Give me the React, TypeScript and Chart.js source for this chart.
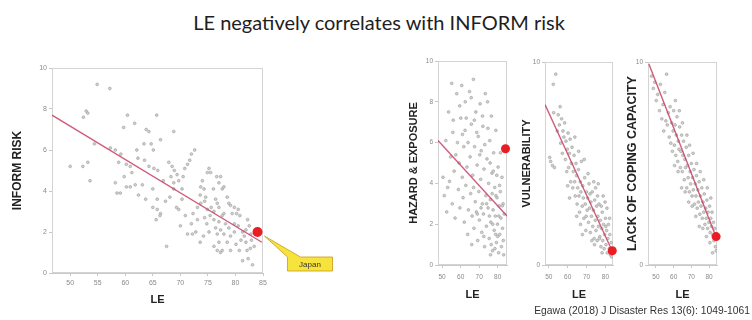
import React, { useEffect, useRef } from "react";
import { Chart, registerables } from "chart.js";

Chart.register(...registerables);

// ---------------- DATA ----------------
const chartTitle = "LE negatively correlates with INFORM risk";
const citation = "Egawa (2018) J Disaster Res 13(6): 1049-1061";
const xAxisTitle = "LE";
const japanLabel = "Japan";

const mainXTicks = [50, 55, 60, 65, 70, 75, 80, 85];
const smallXTicks = [50, 60, 70, 80];
const fullYTicks = [0, 2, 4, 6, 8, 10];
const endYTicks = [0, 10];

// [LE, INFORM risk]
const informRiskPoints = [
  [54.9, 9.2], [57.2, 9.0], [52.4, 7.6], [52.9, 7.9], [53.2, 7.8], [60.4, 7.7], [61.7, 7.3], [59.7, 7.1],
  [63.8, 7.0], [64.3, 6.9], [65.7, 7.7], [68.8, 6.9], [66.4, 6.5], [54.4, 6.3], [50.0, 5.2], [52.3, 5.2],
  [53.2, 5.4], [53.6, 4.5], [57.3, 6.1], [58.2, 6.0], [59.2, 5.8], [62.1, 6.0], [63.4, 6.3], [64.7, 6.3],
  [65.1, 6.0], [58.8, 5.4], [60.2, 5.3], [60.9, 5.2], [61.2, 4.9], [59.8, 4.7], [62.3, 5.6], [63.5, 5.5],
  [64.3, 5.2], [65.2, 5.1], [65.9, 5.0], [58.2, 4.4], [58.5, 3.9], [59.1, 3.9], [60.2, 4.2], [60.9, 4.2],
  [61.8, 4.3], [62.4, 3.8], [63.1, 4.3], [63.7, 3.6], [65.0, 4.1], [65.8, 3.6], [65.8, 3.1], [66.4, 2.9],
  [66.3, 2.8], [67.5, 1.3], [66.9, 4.5], [67.9, 5.4], [68.5, 5.2], [68.9, 5.0], [69.4, 4.8], [68.3, 4.7],
  [68.8, 4.4], [69.7, 4.5], [70.3, 4.1], [70.5, 4.7], [70.8, 5.1], [71.3, 5.3], [71.7, 5.5], [72.6, 6.0],
  [72.0, 5.8], [69.3, 3.2], [69.7, 3.1], [70.3, 3.6], [70.0, 2.3], [70.9, 2.8], [71.3, 1.9], [72.0, 2.4],
  [72.3, 2.9], [72.8, 2.0], [73.1, 3.2], [73.6, 3.8], [73.7, 4.2], [74.0, 4.5], [74.3, 4.1], [74.6, 3.7],
  [74.9, 4.9], [75.2, 5.1], [75.5, 4.9], [74.4, 2.7], [74.8, 2.4], [75.2, 2.0], [73.6, 1.5], [74.2, 1.8],
  [75.6, 3.2], [76.1, 3.0], [76.1, 2.6], [76.4, 2.2], [76.7, 1.9], [77.0, 1.5], [77.3, 1.0], [77.6, 1.1],
  [76.0, 4.1], [76.4, 3.6], [76.7, 3.4], [77.0, 4.4], [77.3, 4.7], [76.6, 4.7], [78.5, 3.7], [79.1, 3.3],
  [77.9, 2.9], [78.2, 2.4], [78.8, 2.2], [79.1, 1.8], [79.4, 2.9], [79.8, 2.4], [80.2, 2.9], [80.5, 3.1],
  [80.8, 2.8], [79.8, 2.0], [80.1, 1.4], [80.7, 1.1], [81.0, 1.6], [81.3, 2.0], [81.6, 1.8], [81.9, 1.5],
  [82.1, 1.1], [82.3, 0.7], [81.3, 0.6], [82.2, 2.6], [82.5, 2.3], [82.8, 1.9], [82.9, 1.6], [83.1, 0.4],
  [82.7, 1.2], [83.4, 1.3], [81.9, 2.1], [80.5, 2.3], [77.6, 2.8], [77.0, 3.2], [74.9, 3.1], [73.1, 2.6],
  [72.2, 1.9], [76.1, 1.3], [76.7, 1.1], [77.3, 2.1], [77.9, 1.9], [78.5, 1.5], [79.1, 1.1], [77.0, 2.5],
  [75.4, 2.8], [74.4, 3.5], [73.7, 3.4], [77.6, 4.1], [77.9, 4.2], [78.8, 3.4], [79.8, 3.2], [68.8, 4.1],
  [68.1, 3.7], [67.3, 3.5], [65.0, 3.2], [65.6, 2.6],
];

// [LE, hazard & exposure]
const hazardPoints = [
  [50.5, 4.3], [51.2, 3.4], [52.0, 6.1], [52.5, 2.6], [53.5, 7.5], [54.0, 4.1], [54.6, 5.3], [55.2, 8.9],
  [55.5, 3.0], [56.0, 7.1], [56.5, 4.6], [57.0, 2.3], [57.9, 8.4], [58.3, 6.0], [58.8, 3.7], [59.2, 5.0],
  [59.6, 2.8], [60.1, 7.2], [60.6, 8.8], [60.9, 4.3], [61.3, 3.3], [61.7, 5.8], [62.0, 2.1], [62.4, 6.6],
  [62.8, 3.9], [63.0, 7.2], [63.4, 4.8], [63.8, 1.5], [64.2, 2.7], [64.8, 8.5], [65.1, 5.3], [65.4, 3.5],
  [65.8, 6.9], [66.2, 2.4], [66.5, 4.4], [66.9, 9.1], [67.2, 1.8], [67.5, 5.8], [67.9, 3.1], [68.2, 7.5],
  [68.5, 2.6], [68.9, 4.9], [69.2, 1.2], [69.5, 6.3], [69.8, 3.6], [70.1, 2.2], [70.5, 7.9], [70.8, 4.2],
  [71.1, 5.6], [71.4, 1.6], [71.7, 3.0], [72.0, 6.8], [72.3, 2.5], [72.6, 4.7], [72.9, 0.9], [73.3, 8.4],
  [73.6, 3.4], [73.9, 1.9], [74.2, 5.2], [74.5, 8.0], [74.8, 2.8], [75.1, 4.0], [75.4, 1.3], [75.7, 6.1],
  [76.0, 3.2], [76.3, 2.1], [76.6, 7.3], [76.9, 4.5], [77.2, 0.7], [77.5, 2.7], [77.8, 5.5], [78.1, 1.7],
  [78.4, 3.8], [78.7, 2.4], [79.0, 6.6], [79.3, 1.1], [79.6, 3.3], [79.9, 2.0], [80.2, 4.8], [80.5, 0.6],
  [80.8, 2.9], [81.1, 1.5], [81.4, 3.6], [81.7, 2.3], [82.0, 0.9], [82.3, 4.3], [82.6, 1.8], [82.9, 3.0],
  [83.2, 0.5], [83.5, 2.5], [81.5, 5.5], [79.5, 4.4], [77.0, 3.5], [75.5, 2.4], [74.0, 3.0], [72.5, 1.4],
  [71.0, 2.8], [69.0, 2.5], [67.0, 3.8], [66.0, 1.0], [80.0, 1.4], [78.5, 0.8], [76.5, 1.0], [82.5, 2.9],
  [81.0, 3.9], [79.0, 3.4], [77.6, 4.6], [75.9, 5.0], [74.7, 6.7], [73.0, 5.9], [71.8, 7.3], [70.3, 5.4],
  [68.7, 6.5], [67.4, 7.1], [65.7, 8.2], [64.0, 6.0], [62.5, 8.0], [61.0, 6.4], [59.5, 7.8], [57.4, 5.4],
  [55.8, 6.5], [53.0, 3.8], [83.0, 1.2], [80.6, 2.4], [78.9, 1.5], [77.3, 2.0], [76.1, 0.5],
];

// [LE, vulnerability]
const vulnerabilityPoints = [
  [53.7, 9.4], [52.4, 8.9], [52.6, 7.5], [51.0, 5.1], [52.0, 4.9], [53.0, 4.8], [50.5, 5.3], [54.5, 6.6],
  [55.0, 7.4], [55.6, 6.9], [56.0, 7.8], [56.3, 6.0], [56.8, 7.2], [57.2, 5.5], [57.5, 6.6], [58.0, 6.3],
  [58.4, 7.0], [58.8, 5.2], [59.1, 6.1], [59.5, 4.6], [59.8, 5.7], [60.2, 6.5], [60.5, 4.8], [60.9, 5.5],
  [61.3, 6.2], [61.6, 4.1], [62.0, 5.0], [62.3, 5.8], [62.7, 3.8], [63.0, 4.6], [63.4, 5.4], [63.7, 4.1],
  [64.0, 3.4], [64.4, 5.0], [64.7, 4.4], [65.0, 3.0], [65.3, 3.8], [65.7, 4.7], [66.0, 3.4], [66.3, 2.6],
  [66.7, 4.1], [67.0, 3.6], [67.3, 5.1], [67.7, 2.9], [68.0, 3.9], [68.3, 3.3], [68.6, 2.3], [69.0, 4.3],
  [69.3, 3.0], [69.6, 1.7], [70.0, 3.6], [70.3, 2.7], [70.6, 3.3], [71.0, 2.1], [71.3, 4.0], [71.6, 2.8],
  [72.0, 1.6], [72.3, 3.1], [72.6, 2.4], [73.0, 3.6], [73.3, 1.9], [73.6, 2.7], [74.0, 1.3], [74.3, 3.2],
  [74.6, 2.2], [75.0, 1.7], [75.3, 2.9], [75.6, 1.2], [76.0, 2.4], [76.3, 1.9], [76.6, 3.0], [77.0, 1.4],
  [77.3, 2.2], [77.6, 0.9], [78.0, 1.8], [78.3, 2.6], [78.6, 1.2], [79.0, 2.0], [79.3, 0.8], [79.6, 1.5],
  [80.0, 2.3], [80.3, 1.0], [80.6, 1.7], [81.0, 0.6], [81.3, 1.3], [81.6, 2.0], [82.0, 0.8], [82.3, 1.5],
  [82.6, 0.5], [83.0, 1.1], [83.3, 0.4], [80.8, 2.8], [79.8, 3.1], [78.8, 3.4], [77.8, 2.9], [76.8, 1.3],
  [75.8, 3.4], [74.8, 3.8], [73.8, 4.1], [72.8, 1.2], [71.8, 3.5], [70.8, 4.5], [69.8, 2.4], [68.8, 5.2],
  [67.8, 1.5], [66.8, 2.0], [65.8, 5.6], [64.8, 2.4], [63.8, 6.3], [61.0, 3.3], [60.0, 3.9], [76.2, 4.0],
  [74.2, 1.0], [78.2, 0.6], [80.2, 1.9], [82.2, 2.3],
];

// [LE, lack of coping capacity]
const copingPoints = [
  [47.5, 9.3], [48.5, 8.7], [49.3, 9.0], [50.2, 8.1], [51.0, 8.4], [52.0, 7.6], [52.5, 8.9], [53.3, 7.2],
  [54.0, 7.9], [54.4, 6.6], [55.0, 8.5], [55.6, 7.1], [56.0, 9.4], [56.4, 6.9], [57.0, 7.5], [57.5, 6.3],
  [58.0, 7.8], [58.4, 6.0], [58.9, 7.0], [59.3, 5.6], [59.7, 6.6], [60.0, 7.6], [60.4, 5.9], [60.8, 6.9],
  [61.2, 5.4], [61.5, 6.4], [61.9, 7.3], [62.3, 5.1], [62.6, 6.1], [63.0, 5.7], [63.4, 6.8], [63.8, 4.8],
  [64.1, 5.6], [64.5, 6.4], [64.9, 4.6], [65.2, 5.4], [65.6, 6.1], [66.0, 4.2], [66.3, 5.2], [66.7, 4.8],
  [67.1, 5.8], [67.4, 3.8], [67.8, 4.9], [68.2, 4.3], [68.5, 5.4], [68.9, 3.6], [69.3, 4.6], [69.6, 4.0],
  [70.0, 5.0], [70.4, 3.4], [70.7, 4.3], [71.1, 3.7], [71.5, 4.7], [71.8, 3.0], [72.2, 4.0], [72.6, 3.4],
  [72.9, 4.4], [73.3, 2.8], [73.7, 3.7], [74.0, 3.1], [74.4, 4.1], [74.8, 2.5], [75.1, 3.4], [75.5, 2.9],
  [75.9, 3.8], [76.2, 2.3], [76.6, 3.1], [77.0, 2.6], [77.3, 3.5], [77.7, 2.0], [78.1, 2.8], [78.4, 2.3],
  [78.8, 3.2], [79.2, 1.8], [79.5, 2.6], [79.9, 2.1], [80.3, 2.9], [80.6, 1.6], [81.0, 2.3], [81.4, 1.9],
  [81.7, 2.6], [82.1, 1.5], [82.5, 2.1], [82.8, 1.2], [83.2, 1.8], [83.6, 0.9], [84.0, 0.7], [61.0, 8.1],
  [63.2, 7.6], [65.0, 7.0], [67.5, 6.4], [69.0, 5.9], [71.0, 5.5], [73.0, 5.0], [75.0, 4.6], [77.0, 4.2],
  [79.0, 3.8], [81.0, 3.3], [74.5, 1.9], [72.5, 2.4], [70.5, 2.9], [68.5, 3.1], [66.5, 3.6], [64.5, 3.8],
  [62.5, 4.6], [60.5, 4.9], [78.5, 1.4], [80.5, 1.1], [76.5, 1.8], [82.0, 0.6],
];

// regression line end points [LE, value]
const informRiskFit = [[46.7, 7.7], [84.8, 1.5]];
const hazardFit = [[47.8, 6.1], [85.0, 2.4]];
const vulnerabilityFit = [[48.0, 7.9], [84.0, 0.6]];
const copingFit = [[46.0, 9.9], [84.3, 1.3]];

// Japan [LE, value]
const japanRisk = [84.0, 2.0];
const japanHazard = [84.2, 5.7];
const japanVulnerability = [83.6, 0.7];
const japanCoping = [84.0, 1.4];

// ---------------- LAYOUT ----------------
const FONT = "'Liberation Sans', Arial, sans-serif";

type PanelCfg = {
  points: number[][];
  fit: number[][];
  japan: number[];
  xMin: number;
  xMax: number;
  xTicks: number[];
  yTicks: number[];
  yTitle: string;
  titleSize: number;
  tickSize: number;
  japanRadius: number;
  callout?: boolean;
  box: { left: number; top: number; width: number; height: number };
  area: { left: number; right: number; top: number; bottom: number };
  yTitleX: number;
  xTitleY: number;
  tickGap: number;
};

const panels: PanelCfg[] = [
  {
    points: informRiskPoints, fit: informRiskFit, japan: japanRisk,
    xMin: 46.7, xMax: 85, xTicks: mainXTicks, yTicks: fullYTicks,
    yTitle: "INFORM RISK", titleSize: 12, tickSize: 7, japanRadius: 5, callout: true,
    box: { left: 0, top: 55, width: 345, height: 265 },
    area: { left: 52, right: 263, top: 68, bottom: 273 },
    yTitleX: 18, xTitleY: 300, tickGap: 3,
  },
  {
    points: hazardPoints, fit: hazardFit, japan: japanHazard,
    xMin: 47.8, xMax: 85, xTicks: smallXTicks, yTicks: fullYTicks,
    yTitle: "HAZARD & EXPOSURE", titleSize: 11, tickSize: 6.5, japanRadius: 4.5,
    box: { left: 400, top: 50, width: 115, height: 270 },
    area: { left: 438, right: 507, top: 61, bottom: 265 },
    yTitleX: 414, xTitleY: 295, tickGap: 5,
  },
  {
    points: vulnerabilityPoints, fit: vulnerabilityFit, japan: japanVulnerability,
    xMin: 48, xMax: 84, xTicks: smallXTicks, yTicks: endYTicks,
    yTitle: "VULNERABILITY", titleSize: 11, tickSize: 6.5, japanRadius: 4.5,
    box: { left: 515, top: 50, width: 108, height: 270 },
    area: { left: 545, right: 613, top: 62, bottom: 265 },
    yTitleX: 527, xTitleY: 295, tickGap: 5,
  },
  {
    points: copingPoints, fit: copingFit, japan: japanCoping,
    xMin: 45.5, xMax: 84.5, xTicks: smallXTicks, yTicks: endYTicks,
    yTitle: "LACK OF COPING CAPACITY", titleSize: 12.5, tickSize: 6.5, japanRadius: 4.5,
    box: { left: 623, top: 50, width: 129, height: 270 },
    area: { left: 648, right: 717, top: 62, bottom: 265 },
    yTitleX: 633, xTitleY: 295, tickGap: 5,
  },
];

const boxPlugin = {
  id: "plotBox",
  beforeDatasetsDraw(chart: any) {
    const { ctx, chartArea: a } = chart;
    ctx.save();
    ctx.strokeStyle = "#d4d4d4";
    ctx.lineWidth = 1;
    ctx.strokeRect(a.left + 0.5, a.top + 0.5, a.right - a.left - 1, a.bottom - a.top - 1);
    ctx.restore();
  },
};

function makeCalloutPlugin(japan: number[]) {
  return {
    id: "japanCallout",
    afterDatasetsDraw(chart: any) {
      const { ctx, scales } = chart;
      const jx = scales.x.getPixelForValue(japan[0]);
      const jy = scales.y.getPixelForValue(japan[1]);
      const L = jx + 30, R = jx + 75, T = jy + 25, B = jy + 39;
      ctx.save();
      ctx.beginPath();
      ctx.moveTo(L, T);
      ctx.lineTo(jx + 7, jy + 4);
      ctx.lineTo(L + 13, T);
      ctx.lineTo(R, T);
      ctx.lineTo(R, B);
      ctx.lineTo(L, B);
      ctx.closePath();
      ctx.fillStyle = "#f6e33c";
      ctx.fill();
      ctx.strokeStyle = "#c99a1a";
      ctx.lineWidth = 0.8;
      ctx.stroke();
      ctx.fillStyle = "#333";
      ctx.font = `8px ${FONT}`;
      ctx.textAlign = "center";
      ctx.textBaseline = "middle";
      ctx.fillText(japanLabel, (L + R) / 2, (T + B) / 2 + 0.5);
      ctx.restore();
    },
  };
}

function Panel({ cfg }: { cfg: PanelCfg }) {
  const ref = useRef<HTMLCanvasElement>(null);
  useEffect(() => {
    const c = ref.current;
    if (!c) return;
    const lh = cfg.titleSize * 1.2;
    const xlh = 11 * 1.2;
    const pl = cfg.yTitleX - cfg.box.left - lh / 2;
    const yWidth = cfg.area.left - cfg.box.left - pl;
    const pt = cfg.area.top - cfg.box.top;
    const pr = cfg.box.left + cfg.box.width - cfg.area.right;
    const xScaleBottom = cfg.xTitleY - cfg.box.top + xlh / 2;
    const pb = cfg.box.height - xScaleBottom;
    const xHeight = xScaleBottom - (cfg.area.bottom - cfg.box.top);

    const plugins: any[] = [boxPlugin];
    if (cfg.callout) plugins.push(makeCalloutPlugin(cfg.japan));

    const chart = new Chart(c, {
      type: "scatter",
      data: {
        datasets: [
          {
            data: [{ x: cfg.japan[0], y: cfg.japan[1] }],
            pointRadius: cfg.japanRadius,
            backgroundColor: "#ea1c24",
            borderColor: "#e01018",
            borderWidth: 0,
            clip: false,
            order: 0,
          } as any,
          {
            data: cfg.fit.map(([x, y]) => ({ x, y })),
            showLine: true,
            pointRadius: 0,
            borderColor: "rgba(200,62,98,0.85)",
            borderWidth: 1.4,
            order: 1,
          },
          {
            data: cfg.points.map(([x, y]) => ({ x, y })),
            pointRadius: 1.4,
            backgroundColor: "#d0d0d0",
            borderColor: "#9c9c9c",
            borderWidth: 0.6,
            order: 2,
          },
        ],
      },
      options: {
        animation: false,
        responsive: false,
        maintainAspectRatio: false,
        events: [],
        layout: { padding: { left: pl, right: pr, top: pt, bottom: pb } },
        plugins: { legend: { display: false }, tooltip: { enabled: false } },
        scales: {
          x: {
            type: "linear",
            min: cfg.xMin,
            max: cfg.xMax,
            afterBuildTicks: (s: any) => {
              s.ticks = cfg.xTicks.map((v) => ({ value: v }));
            },
            afterFit: (s: any) => {
              s.height = xHeight;
            },
            grid: { drawOnChartArea: false, drawTicks: true, tickLength: 3, color: "#c8c8c8" },
            border: { color: "#c8c8c8" },
            ticks: {
              font: { size: cfg.tickSize, family: FONT },
              color: "#8a8a8a",
              padding: cfg.tickGap,
              maxRotation: 0,
              autoSkip: false,
            },
            title: {
              display: true,
              text: xAxisTitle,
              font: { size: 11, weight: "bold", family: FONT, lineHeight: 1.2 },
              color: "#222",
              padding: 0,
            },
          },
          y: {
            type: "linear",
            min: 0,
            max: 10,
            afterBuildTicks: (s: any) => {
              s.ticks = cfg.yTicks.map((v) => ({ value: v }));
            },
            afterFit: (s: any) => {
              s.width = yWidth;
            },
            grid: { drawOnChartArea: false, drawTicks: true, tickLength: 3, color: "#c8c8c8" },
            border: { color: "#c8c8c8" },
            ticks: {
              font: { size: cfg.tickSize, family: FONT },
              color: "#8a8a8a",
              padding: 2,
              autoSkip: false,
            },
            title: {
              display: true,
              text: cfg.yTitle,
              font: { size: cfg.titleSize, weight: "bold", family: FONT, lineHeight: 1.2 },
              color: "#222",
              padding: 0,
            },
          },
        },
      },
      plugins,
    });
    return () => chart.destroy();
  }, [cfg]);

  return (
    <canvas
      ref={ref}
      width={cfg.box.width}
      height={cfg.box.height}
      style={{
        position: "absolute",
        left: cfg.box.left,
        top: cfg.box.top,
        width: cfg.box.width,
        height: cfg.box.height,
      }}
    />
  );
}

export default function App() {
  return (
    <div
      style={{
        position: "fixed",
        left: 0,
        top: 0,
        width: 752,
        height: 320,
        background: "#ffffff",
        overflow: "hidden",
      }}
    >
      <div
        style={{
          position: "absolute",
          left: 0,
          top: 9,
          width: 758,
          textAlign: "center",
          fontFamily: "Lato, 'Open Sans', sans-serif",
          fontSize: 20,
          lineHeight: "26px",
          color: "#1e1e1e",
        }}
      >
        {chartTitle}
      </div>
      {panels.map((p, i) => (
        <Panel key={i} cfg={p} />
      ))}
      <div
        style={{
          position: "absolute",
          right: 2,
          top: 304,
          fontFamily: FONT,
          fontSize: 10.3,
          lineHeight: "14px",
          color: "#333",
          whiteSpace: "nowrap",
        }}
      >
        {citation}
      </div>
    </div>
  );
}
